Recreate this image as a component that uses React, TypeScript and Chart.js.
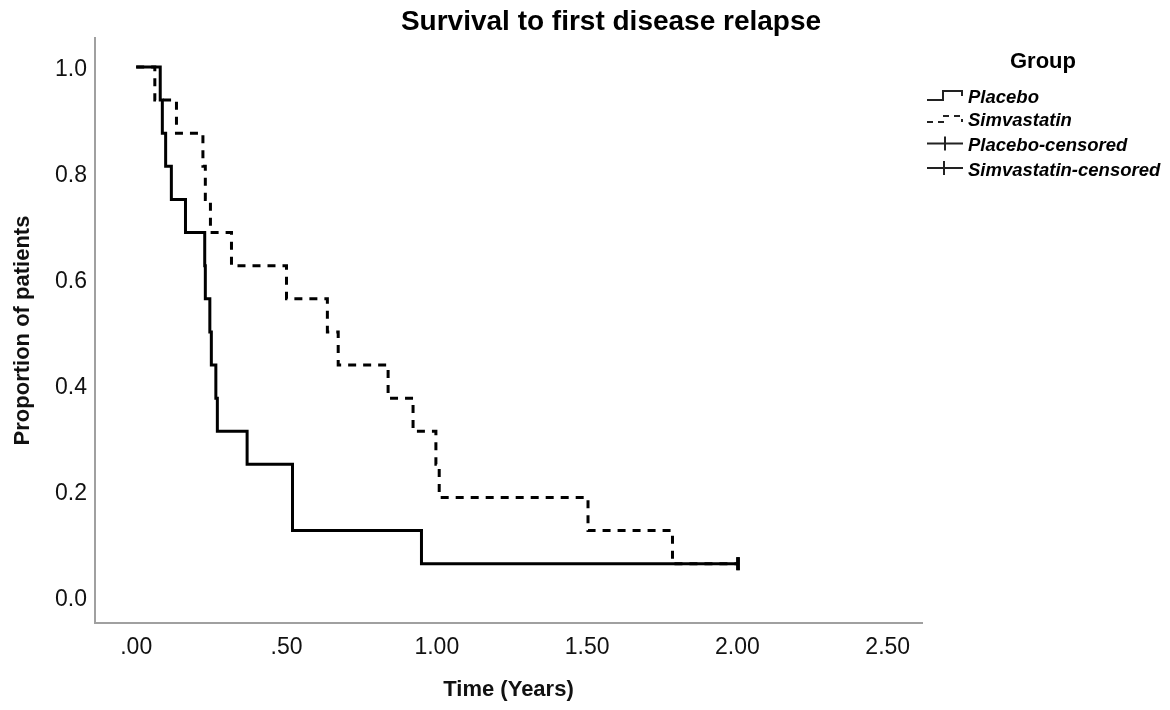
import React, { useEffect, useRef } from 'react';
import { Chart, registerables } from 'chart.js';

Chart.register(...registerables);

// Kaplan-Meier estimates (time in years, proportion surviving)
const placeboTimes = [0, 0.080, 0.087, 0.098, 0.117, 0.164, 0.228, 0.230, 0.245, 0.250, 0.265, 0.270, 0.369, 0.520, 0.520, 0.949, 2.002];
const placeboSurvival = [1, 0.9375, 0.875, 0.8125, 0.75, 0.6875, 0.625, 0.5625, 0.5, 0.4375, 0.375, 0.3125, 0.25, 0.1875, 0.125, 0.0625, 0.0625];
const simvaTimes = [0, 0.062, 0.134, 0.222, 0.230, 0.247, 0.317, 0.500, 0.636, 0.672, 0.838, 0.921, 0.997, 1.008, 1.503, 1.784, 2.002];
const simvaSurvival = [1, 0.9375, 0.875, 0.8125, 0.75, 0.6875, 0.625, 0.5625, 0.5, 0.4375, 0.375, 0.3125, 0.25, 0.1875, 0.125, 0.0625, 0.0625];

const xTicks = [0, 0.5, 1, 1.5, 2, 2.5];
const xTickLabels = ['.00', '.50', '1.00', '1.50', '2.00', '2.50'];
const yTicks = [0, 0.2, 0.4, 0.6, 0.8, 1.0];
const yTickLabels = ['0.0', '0.2', '0.4', '0.6', '0.8', '1.0'];

const chartTitle = 'Survival to first disease relapse';
const xTitle = 'Time (Years)';
const yTitle = 'Proportion of patients';
const legendTitle = 'Group';
const legendLabels = ['Placebo', 'Simvastatin', 'Placebo-censored', 'Simvastatin-censored'];

const FONT = "'Liberation Sans', Arial, sans-serif";

function toPoints(times: number[], surv: number[]) {
  return times.map((t, i) => ({ x: t, y: surv[i] }));
}
function censorRadii(n: number) {
  return Array.from({ length: n }, (_, i) => (i === n - 1 ? 6.5 : 0));
}

const decorPlugin = {
  id: 'decor',
  afterDraw(chart: any) {
    const ctx = chart.ctx as CanvasRenderingContext2D;
    ctx.save();
    // Title
    ctx.fillStyle = '#000';
    ctx.font = `bold 28px ${FONT}`;
    ctx.textAlign = 'center';
    ctx.textBaseline = 'middle';
    ctx.fillText(chartTitle, 611, 22);

    // Legend title
    ctx.font = `bold 22px ${FONT}`;
    ctx.fillText(legendTitle, 1043, 62);

    // Legend items
    const ys = [98, 121, 146, 171];
    ctx.textAlign = 'left';
    ctx.font = `italic bold 18.5px ${FONT}`;
    legendLabels.forEach((lab, i) => {
      ctx.fillStyle = '#000';
      ctx.fillText(lab, 968, ys[i]);
    });

    ctx.strokeStyle = '#222';
    ctx.lineCap = 'butt';
    ctx.lineJoin = 'miter';
    // Placebo symbol (solid step)
    ctx.lineWidth = 2;
    ctx.setLineDash([]);
    ctx.beginPath();
    ctx.moveTo(927, 100);
    ctx.lineTo(943, 100);
    ctx.lineTo(943, 91);
    ctx.lineTo(962, 91);
    ctx.lineTo(962, 96);
    ctx.stroke();
    // Simvastatin symbol (dashed step)
    ctx.setLineDash([6, 5]);
    ctx.beginPath();
    ctx.moveTo(927, 122);
    ctx.lineTo(943, 122);
    ctx.lineTo(943, 116);
    ctx.lineTo(962, 116);
    ctx.lineTo(962, 122);
    ctx.stroke();
    ctx.setLineDash([]);
    // Censored symbols
    [[143.5, 945], [168, 944]].forEach(([y, x]) => {
      ctx.beginPath();
      ctx.moveTo(927, y);
      ctx.lineTo(963, y);
      ctx.moveTo(x, y - 7);
      ctx.lineTo(x, y + 7);
      ctx.stroke();
    });
    ctx.restore();
  },
};

export default function App() {
  const ref = useRef<HTMLCanvasElement | null>(null);
  useEffect(() => {
    document.body.style.margin = '0';
    const canvas = ref.current;
    if (!canvas) return;
    const chart = new Chart(canvas, {
      type: 'line',
      data: {
        datasets: [
          {
            label: 'Placebo',
            data: toPoints(placeboTimes, placeboSurvival),
            borderColor: '#000',
            backgroundColor: '#000',
            borderWidth: 3,
            stepped: 'before',
            fill: false,
            pointStyle: 'line',
            rotation: 90,
            pointRadius: censorRadii(placeboTimes.length),
            pointBorderWidth: 3.5,
            pointBorderColor: '#000',
            borderCapStyle: 'butt',
            borderJoinStyle: 'miter',
          },
          {
            label: 'Simvastatin',
            data: toPoints(simvaTimes, simvaSurvival),
            borderColor: '#000',
            backgroundColor: '#000',
            borderWidth: 3,
            borderDash: [8, 7],
            stepped: 'before',
            fill: false,
            pointStyle: 'line',
            rotation: 90,
            pointRadius: censorRadii(simvaTimes.length),
            pointBorderWidth: 3.5,
            pointBorderColor: '#000',
            borderCapStyle: 'butt',
            borderJoinStyle: 'miter',
          },
        ],
      },
      options: {
        animation: false,
        responsive: false,
        maintainAspectRatio: false,
        layout: { padding: { top: 38, right: 248, left: 0, bottom: 0 } },
        plugins: {
          legend: { display: false },
          title: { display: false },
          tooltip: { enabled: false },
        },
        scales: {
          x: {
            type: 'linear',
            min: -0.137,
            max: 2.614,
            afterFit: (s: any) => { s.height = 87; },
            afterBuildTicks: (s: any) => { s.ticks = xTicks.map((v) => ({ value: v })); },
            grid: { display: false, drawTicks: false },
            border: { display: true, color: '#a0a0a0', width: 2 },
            ticks: {
              padding: 11,
              color: '#111',
              font: { family: FONT, size: 23 },
              callback: (v: any) => {
                const i = xTicks.indexOf(Number(v));
                return i >= 0 ? xTickLabels[i] : '';
              },
            },
            title: {
              display: true,
              text: xTitle,
              color: '#111',
              font: { family: FONT, size: 22, weight: 'bold' },
              padding: { top: 0, bottom: 7 },
            },
          },
          y: {
            type: 'linear',
            min: -0.0494,
            max: 1.0547,
            afterFit: (s: any) => { s.width = 95; },
            afterBuildTicks: (s: any) => { s.ticks = yTicks.map((v) => ({ value: v })); },
            grid: { display: false, drawTicks: false },
            border: { display: true, color: '#a0a0a0', width: 2 },
            ticks: {
              padding: 8,
              labelOffset: 3,
              color: '#111',
              font: { family: FONT, size: 23 },
              callback: (v: any) => {
                const i = yTicks.findIndex((t) => Math.abs(t - Number(v)) < 1e-9);
                return i >= 0 ? yTickLabels[i] : '';
              },
            },
            title: {
              display: true,
              text: yTitle,
              color: '#111',
              font: { family: FONT, size: 22, weight: 'bold' },
              padding: { top: 10, bottom: 0 },
            },
          },
        },
      },
      plugins: [decorPlugin],
    } as any);
    return () => chart.destroy();
  }, []);
  return (
    <div style={{ width: 1170, height: 710, background: '#fff' }}>
      <canvas ref={ref} width={1170} height={710} style={{ display: 'block' }} />
    </div>
  );
}
